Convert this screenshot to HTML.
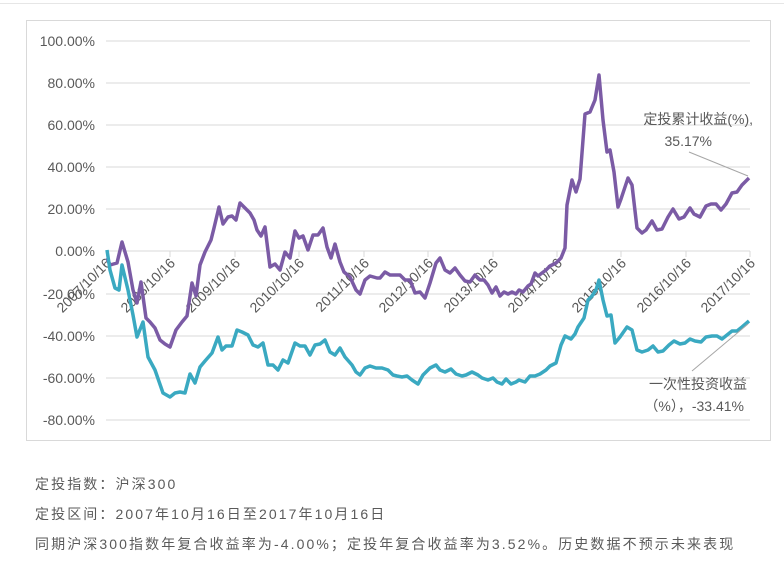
<!DOCTYPE html>
<html><head><meta charset="utf-8"><style>
html,body{margin:0;padding:0;background:#fff;width:784px;height:575px;overflow:hidden}
.t{position:absolute;left:35px;font-family:"Liberation Sans","Noto Sans CJK SC",sans-serif;font-size:14px;color:#5a5a5a;letter-spacing:2.1px;white-space:nowrap}
</style></head><body>
<div style="position:absolute;left:0;top:0;width:784px;height:3px;border-bottom:1px solid #e6e6e6"></div>
<svg style="position:absolute;left:0;top:0" width="784" height="460" xmlns="http://www.w3.org/2000/svg" font-family="Liberation Sans, Noto Sans CJK SC, sans-serif">
<rect x="26.5" y="20.5" width="744" height="420" fill="#fff" stroke="#d9d9d9"/>
<g stroke="#d9d9d9" stroke-width="1">
<line x1="106" x2="750" y1="41" y2="41"/><line x1="106" x2="750" y1="83" y2="83"/><line x1="106" x2="750" y1="125" y2="125"/><line x1="106" x2="750" y1="167" y2="167"/><line x1="106" x2="750" y1="209" y2="209"/><line x1="106" x2="750" y1="251" y2="251"/><line x1="106" x2="750" y1="294" y2="294"/><line x1="106" x2="750" y1="336" y2="336"/><line x1="106" x2="750" y1="378" y2="378"/><line x1="106" x2="750" y1="420" y2="420"/>
<line x1="170" x2="170" y1="251" y2="257"/><line x1="235" x2="235" y1="251" y2="257"/><line x1="299" x2="299" y1="251" y2="257"/><line x1="364" x2="364" y1="251" y2="257"/><line x1="428" x2="428" y1="251" y2="257"/><line x1="493" x2="493" y1="251" y2="257"/><line x1="557" x2="557" y1="251" y2="257"/><line x1="621" x2="621" y1="251" y2="257"/><line x1="686" x2="686" y1="251" y2="257"/><line x1="750" x2="750" y1="251" y2="257"/>
</g>
<g font-size="14" fill="#595959" text-anchor="end">
<text x="95" y="46">100.00%</text><text x="95" y="88">80.00%</text><text x="95" y="130">60.00%</text><text x="95" y="172">40.00%</text><text x="95" y="214">20.00%</text><text x="95" y="256">0.00%</text><text x="95" y="299">-20.00%</text><text x="95" y="341">-40.00%</text><text x="95" y="383">-60.00%</text><text x="95" y="425">-80.00%</text>
</g>
<g font-size="14" fill="#595959" text-anchor="end">
<text transform="translate(112,264) rotate(-45)">2007/10/16</text>
<text transform="translate(176,264) rotate(-45)">2008/10/16</text>
<text transform="translate(241,264) rotate(-45)">2009/10/16</text>
<text transform="translate(305,264) rotate(-45)">2010/10/16</text>
<text transform="translate(370,264) rotate(-45)">2011/10/16</text>
<text transform="translate(434,264) rotate(-45)">2012/10/16</text>
<text transform="translate(499,264) rotate(-45)">2013/10/16</text>
<text transform="translate(563,264) rotate(-45)">2014/10/16</text>
<text transform="translate(627,264) rotate(-45)">2015/10/16</text>
<text transform="translate(692,264) rotate(-45)">2016/10/16</text>
<text transform="translate(756,264) rotate(-45)">2017/10/16</text>
</g>
<polyline fill="none" stroke="#7b5ba5" stroke-width="3.5" stroke-linejoin="round" points="107,258 110,265 117,263 122,242 128,262 133,290 137,303 141,282 146,318 150,322 155,328 160,340 165,344 170,347 176,330 182,322 187,316 192,283 196,296 200,265 205,252 211,240 214,228 219,207 223,224 228,217 232,216 236,220 240,203 245,208 250,213 254,220 257,230 261,236 265,227 270,267 275,264 280,270 285,252 290,258 295,231 299,238 303,236 308,250 313,235 318,235 323,228 327,247 331,258 335,244 340,262 344,272 350,277 356,290 360,294 365,280 370,276 377,278 380,278 385,272 390,275 395,275 400,275 405,280 410,280 415,293 420,292 425,298 430,283 436,263 440,258 445,270 450,273 455,268 460,275 465,281 470,282 475,275 480,280 484,280 488,285 492,293 496,287 500,296 504,292 508,294 512,292 516,294 519,290 523,292 528,286 531,284 535,273 538,276 542,273 546,270 550,266 556,263 561,258 565,248 567,205 572,180 576,192 580,179 585,114 590,112 595,100 599,75 603,120 607,152 610,150 614,172 618,207 621,199 628,178 632,185 637,228 642,233 646,230 652,221 657,230 662,229 668,217 673,209 679,219 684,217 690,208 694,214 700,217 706,206 711,204 716,204 721,210 726,204 732,193 737,192 742,185 749,178"/>
<polyline fill="none" stroke="#3aa9c1" stroke-width="3.5" stroke-linejoin="round" points="107,250 110,270 115,288 119,290 122,265 128,290 133,315 137,337 143,322 148,357 155,370 163,393 170,397 175,393 180,392 185,393 190,374 195,383 200,367 205,361 212,353 218,337 222,350 226,346 232,346 237,330 242,332 248,335 253,345 258,347 263,343 268,365 273,365 278,370 283,360 288,363 295,343 300,346 305,346 310,355 315,345 320,344 325,340 330,352 335,355 340,348 345,357 352,365 356,372 360,375 365,368 370,366 376,368 382,368 388,370 393,375 397,376 402,377 407,376 412,380 418,384 423,375 430,368 436,365 440,370 445,372 451,369 456,374 462,376 466,375 472,372 478,375 482,378 488,380 493,378 497,382 502,384 506,379 511,384 516,382 519,380 525,382 530,376 535,376 540,374 546,370 550,366 556,363 561,345 565,336 571,339 575,334 578,327 584,318 588,300 592,296 596,290 599,280 603,300 607,316 611,315 615,343 620,337 627,327 632,330 637,350 642,352 648,350 653,346 658,352 663,351 669,345 674,341 680,344 685,343 690,339 695,341 701,342 706,337 712,336 717,336 722,339 727,335 732,331 737,331 742,327 749,321"/>
<line x1="689" y1="152" x2="748" y2="176" stroke="#a6a6a6"/>
<line x1="692" y1="371" x2="748" y2="324" stroke="#a6a6a6"/>
<g font-size="14" fill="#595959" text-anchor="end">
<text x="753" y="124">定投累计收益(%),</text>
<text x="712" y="146">35.17%</text>
<text x="747" y="389">一次性投资收益</text>
<text x="744" y="411">（%），-33.41%</text>
</g>
</svg>
<div class="t" style="top:474px">定投指数：沪深300</div>
<div class="t" style="top:504px">定投区间：2007年10月16日至2017年10月16日</div>
<div class="t" style="top:534px">同期沪深300指数年复合收益率为-4.00%；定投年复合收益率为3.52%。历史数据不预示未来表现</div>
</body></html>
